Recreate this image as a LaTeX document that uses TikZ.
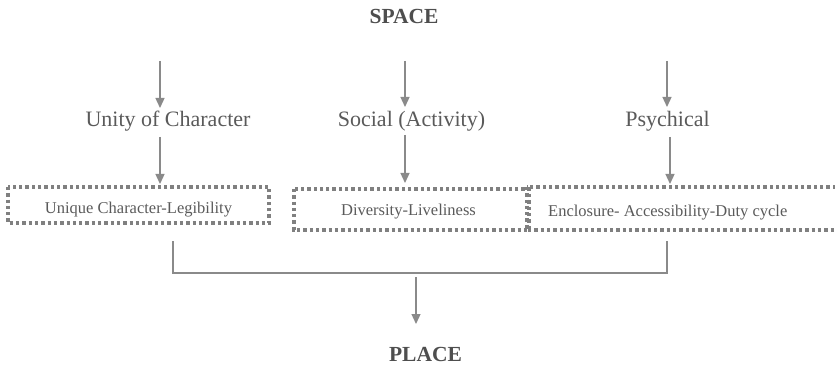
\documentclass[tikz,border=0pt]{standalone}
\usepackage{fontspec}
\setmainfont{Liberation Serif}
\usetikzlibrary{arrows.meta}
\definecolor{linegray}{HTML}{8A8A8A}
\definecolor{dotgray}{HTML}{808080}
\definecolor{txtgray}{HTML}{5A5A5A}
\definecolor{headgray}{HTML}{4E4E4E}
\begin{document}
\begin{tikzpicture}[x=1pt,y=-1pt,
  arr/.style={draw=linegray,line width=1.3pt,-{Triangle[width=9pt,length=10pt]}},
  plain/.style={draw=linegray,line width=1.3pt},
  dotbox/.style={draw=dotgray,line width=3.2pt,dash pattern=on 3.3pt off 3pt},
  head/.style={font=\fontsize{21.5}{24}\selectfont\bfseries,text=headgray,inner sep=0pt,anchor=base},
  lab/.style={font=\fontsize{22}{26}\selectfont,text=txtgray,inner sep=0pt,anchor=base},
  boxtxt/.style={font=\fontsize{16.5}{19}\selectfont,text=txtgray,inner sep=0pt,anchor=base}
]
\useasboundingbox (0,0) rectangle (835,366);
% headings
\node[head] (space) at (404,24) {SPACE};
\node[head] (place) at (425.5,361) {PLACE};
% labels
\node[lab] (l1) at (168,127) {Unity of Character};
\node[lab] (l2) at (411.5,127) {Social (Activity)};
\node[lab] (l3) at (667.5,127) {Psychical};
% dotted boxes
\path[dotbox] (8,187) rectangle (269,223);
\node[inner sep=0pt,minimum width=261pt,minimum height=36pt] (b1) at (138.5,205) {};
\path[dotbox] (294,189) rectangle (529,230);
\node[inner sep=0pt,minimum width=235pt,minimum height=41pt] (b2) at (411.5,209.5) {};
\path[dotbox] (527,187) rectangle (840,230);
\node[inner sep=0pt,minimum width=313pt,minimum height=43pt] (b3) at (683.5,208.5) {};
% box texts
\node[boxtxt] (t1) at (138.5,214) {Unique Character-Legibility};
\node[boxtxt] (t2) at (408.5,215) {Diversity-Liveliness};
\node[boxtxt,anchor=base west] (t3) at (548,216) {Enclosure- Accessibility-Duty cycle};
% top arrow start points
\coordinate (s1) at (160,61);
\coordinate (s2) at (405,61);
\coordinate (s3) at (667,61);
\draw[arr] (s1) -- (160,108);
\draw[arr] (s2) -- (405,107);
\draw[arr] (s3) -- (667,107);
% label to box arrows
\coordinate (m1) at (160,137);
\coordinate (m2) at (405,135);
\coordinate (m3) at (670,137);
\draw[arr] (m1) -- (160,184);
\draw[arr] (m2) -- (405,183);
\draw[arr] (m3) -- (670,184);
% bottom bracket
\coordinate (bl) at (173,241);
\coordinate (br) at (667,241);
\coordinate (jn) at (416,273);
\draw[plain] (bl) |- (jn) -| (br);
\coordinate (pa) at (416,277);
\draw[arr] (pa) -- (416,324);
\end{tikzpicture}
\end{document}
